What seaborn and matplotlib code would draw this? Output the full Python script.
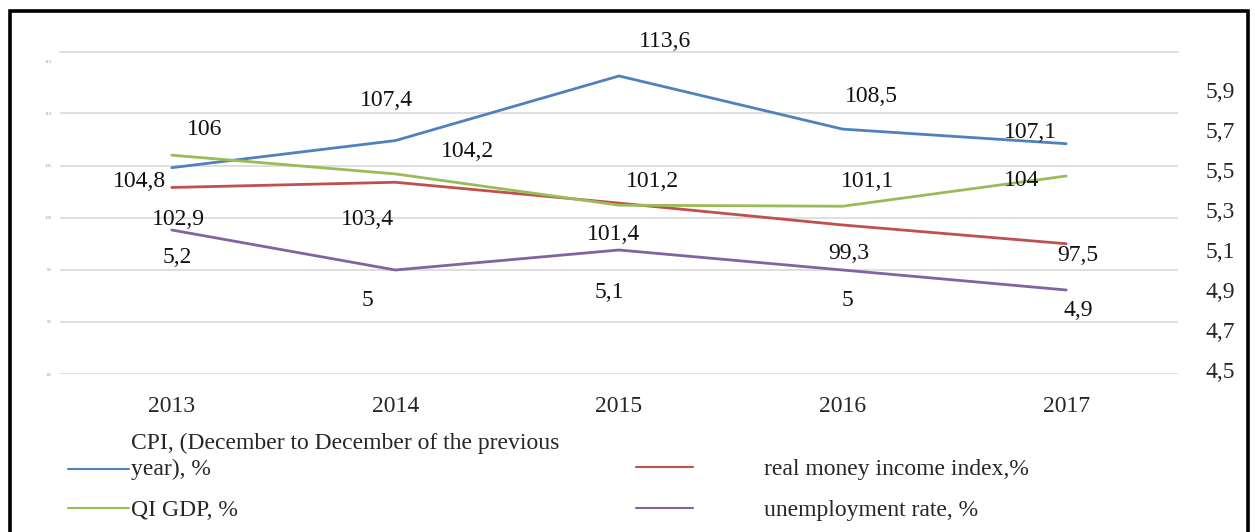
import numpy as np
import pandas as pd
import matplotlib.pyplot as plt
import matplotlib.patches as mpatches
from matplotlib.lines import Line2D
from matplotlib.legend_handler import HandlerLine2D
import seaborn as sns

years = ['2013', '2014', '2015', '2016', '2017']
cpi = [104.8, 107.4, 113.6, 108.5, 107.1]
income = [102.9, 103.4, 101.4, 99.3, 97.5]
gdp = [106.0, 104.2, 101.2, 101.1, 104.0]
unemp = [5.2, 5.0, 5.1, 5.0, 4.9]

left_ticks = [85, 90, 95, 100, 105, 110]
right_ticks = [4.5, 4.7, 4.9, 5.1, 5.3, 5.5, 5.7, 5.9]

cpi_label = 'CPI, (December to December of the previous\nyear), %'
income_label = 'real money income index,%'
gdp_label = 'QI GDP, %'
unemp_label = 'unemployment rate, %'

# label offsets in pixels (dx, dy) for the value annotations
cpi_off = [(-32, -14), (-9, 40), (46, 34), (29, 33), (-36, 11)]
income_off = [(7, -32), (-28, -37), (-5, -31), (6, -29), (12, -12)]
gdp_off = [(33, 26), (72, 22), (33, 24), (25, 25), (-45, -4)]
unemp_off = [(5, -27), (-28, -30), (-10, -42), (5, -30), (12, -20)]

blue = '#4F81BD'
red = '#C0504D'
green = '#9BBB59'
purple = '#8064A2'
grid_c = '#d9d9d9'

sns.set_style('white')
plt.rcParams['font.family'] = ['Liberation Serif', 'DejaVu Serif']

df = pd.DataFrame({'pos': np.arange(len(years)), 'cpi': cpi, 'income': income,
                   'gdp': gdp, 'unemp': unemp})

fig = plt.figure(figsize=(12.55, 5.32), dpi=100)
ax = fig.add_axes([60 / 1255, 1 - 374 / 532, 1118 / 1255, 322 / 532])
ax2 = ax.twinx()

lw = 2.0
sns.lineplot(data=df, x='pos', y='cpi', ax=ax, color=blue, lw=lw)
sns.lineplot(data=df, x='pos', y='income', ax=ax, color=red, lw=lw)
sns.lineplot(data=df, x='pos', y='gdp', ax=ax, color=green, lw=lw)
sns.lineplot(data=df, x='pos', y='unemp', ax=ax2, color=purple, lw=lw)

fmt = lambda v: f'{v:g}'.replace('.', ',')
fs = 17

for col, offs, a in [('cpi', cpi_off, ax), ('income', income_off, ax),
                     ('gdp', gdp_off, ax), ('unemp', unemp_off, ax2)]:
    for x, v, (dx, dy) in zip(df['pos'], df[col], offs):
        a.annotate(fmt(v), (x, v), xytext=(dx, dy), textcoords='offset pixels',
                   ha='center', va='center', fontsize=fs, color='#111111')

ax.set_xlim(-0.5, len(years) - 0.5)
ax.set_ylim(85, 115.9)
ax2.set_ylim(4.48, 6.09)

ax.set_xticks(df['pos'])
ax.set_xticklabels(years, fontsize=fs)
ax.set_yticks(left_ticks)
ax.set_yticklabels([str(t) for t in left_ticks], fontsize=3.5, color='#999999')
ax.set_yticks([115], minor=True)
ax.set_yticklabels(['115'], minor=True, fontsize=3.5, color='#999999')
ax2.set_yticks(right_ticks)
ax2.set_yticklabels([fmt(t) for t in right_ticks], fontsize=fs)

ax.grid(axis='y', which='major', color=grid_c, lw=1.2)
ax.set_axisbelow(True)
ax.tick_params(axis='x', length=0, pad=16)
ax.tick_params(axis='y', which='both', length=0, pad=6)
ax2.tick_params(axis='y', length=0, pad=20)
ax.set_xlabel('')
ax.set_ylabel('')
ax2.set_ylabel('')
for a in (ax, ax2):
    for s in a.spines.values():
        s.set_visible(False)
ax.spines['top'].set_visible(True)
ax.spines['top'].set_color(grid_c)
ax.spines['top'].set_linewidth(1.2)


class LowHandler(HandlerLine2D):
    # puts the handle next to the last line of a two-line label
    def create_artists(self, legend, orig_handle, xdescent, ydescent, width,
                       height, fontsize, trans):
        arts = super().create_artists(legend, orig_handle, xdescent, ydescent,
                                      width, height, fontsize, trans)
        for a in arts:
            a.set_ydata(np.asarray(a.get_ydata()) - 0.52 * fontsize)
        return arts


h_cpi = Line2D([], [], color=blue, lw=1.5)
h_inc = Line2D([], [], color=red, lw=1.5)
h_gdp = Line2D([], [], color=green, lw=1.5)
h_une = Line2D([], [], color=purple, lw=1.5)

leg1 = fig.legend([h_cpi, h_gdp], [cpi_label, gdp_label], loc='lower left',
                  bbox_to_anchor=(68 / 1255, 0.021), frameon=False, fontsize=fs,
                  handlelength=2.6, handletextpad=0.05, labelspacing=0.8,
                  borderpad=0, borderaxespad=0, handler_map={h_cpi: LowHandler()})
for t in leg1.get_texts():
    t.set_linespacing(1.32)
fig.legend([h_inc, h_une], [income_label, unemp_label], loc='lower left',
           bbox_to_anchor=(636 / 1255, 0.021), frameon=False, fontsize=fs,
           handlelength=2.4, handletextpad=3.0, labelspacing=0.8,
           borderpad=0, borderaxespad=0)

# outer frame
fig.patches.append(mpatches.Rectangle((10 / 1255, -0.1), 1238 / 1255, 1.1 - 11 / 532,
                                      transform=fig.transFigure, fill=False,
                                      edgecolor='black', lw=2.6))

fig.savefig('out.png', dpi=100)
